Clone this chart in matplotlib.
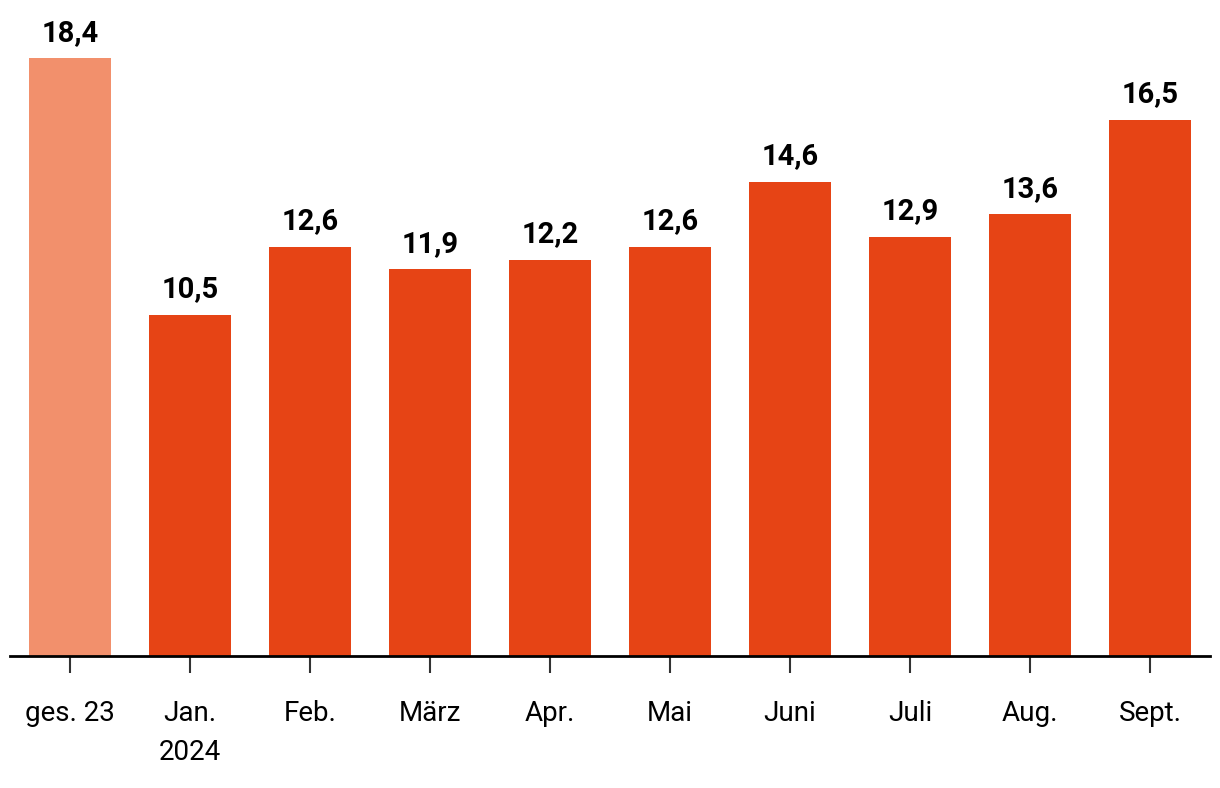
import matplotlib
matplotlib.use("Agg")
import matplotlib.pyplot as plt
import numpy as np

plt.rcParams["font.family"] = ["Roboto", "DejaVu Sans"]

categories = ["ges. 23", "Jan.\n2024", "Feb.", "März", "Apr.", "Mai", "Juni", "Juli", "Aug.", "Sept."]
values = [18.4, 10.5, 12.6, 11.9, 12.2, 12.6, 14.6, 12.9, 13.6, 16.5]
bar_colors = ["#F2906C"] + ["#E64415"] * 9

fig = plt.figure(figsize=(12.2, 7.88), dpi=100)
ax = fig.add_axes([10 / 1220, 132 / 788, 1200 / 1220, 650 / 788])

x = np.arange(len(categories))
ax.bar(x, values, width=0.68, color=bar_colors)

for xi, v in zip(x, values):
    ax.text(xi, v + 0.35, f"{v:.1f}".replace(".", ","), ha="center", va="bottom",
            fontsize=21, fontweight="bold", color="black")

ax.set_xlim(-0.5, 9.5)
ax.set_ylim(0, 20)
ax.set_xticks(x)
ax.set_xticklabels(categories, fontsize=20, linespacing=1.55, color="black")
ax.tick_params(axis="x", length=12, width=1.5, color="#333333", pad=20)
ax.set_yticks([])
for s in ["top", "right", "left"]:
    ax.spines[s].set_visible(False)
ax.spines["bottom"].set_linewidth(2)
ax.spines["bottom"].set_color("black")

fig.savefig("out.png", dpi=100)
